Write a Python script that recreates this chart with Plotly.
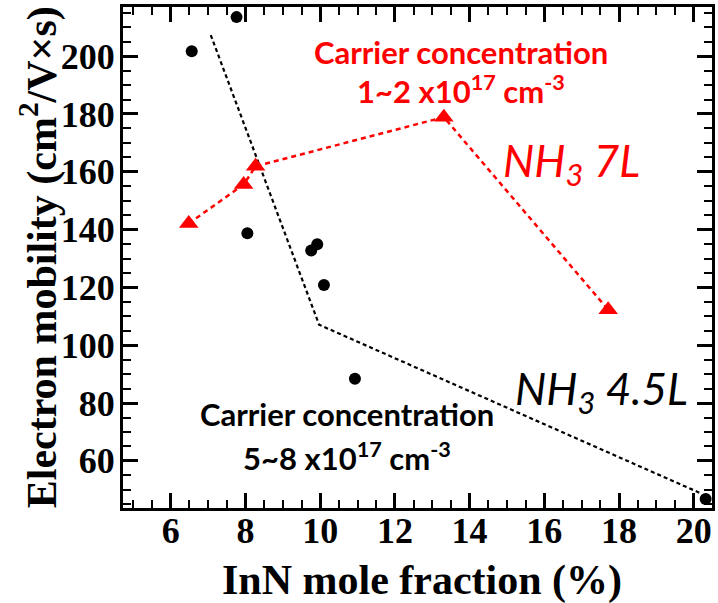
import plotly.graph_objects as go

# NH3 4.5L samples: InN mole fraction (%) and electron mobility (cm^2/V s)
low_nh3_x = [7.76, 6.56, 8.05, 9.76, 9.92, 10.10, 10.93, 20.32]
low_nh3_y = [213.5, 201.7, 138.7, 132.8, 134.9, 120.8, 88.4, 46.8]

# Guide line through the NH3 4.5L trend
low_guide_x = [7.07, 9.97, 20.15]
low_guide_y = [207.3, 107.1, 49.0]

# NH3 7L samples
high_nh3_x = [6.48, 7.95, 8.27, 13.31, 17.71]
high_nh3_y = [142.1, 155.6, 161.9, 178.9, 112.3]

x_range = [4.72, 20.49]
y_range = [43.7, 217.0]
x_ticks = [6, 8, 10, 12, 14, 16, 18, 20]
y_ticks = [60, 80, 100, 120, 140, 160, 180, 200]

RED = "#ff0000"
SERIF = "Liberation Serif"
SANS = "Lato"

fig = go.Figure()

fig.add_trace(go.Scatter(
    x=low_guide_x, y=low_guide_y, mode="lines",
    line=dict(color="black", width=2.2, dash="4px,3px"),
    hoverinfo="skip", showlegend=False,
))
fig.add_trace(go.Scatter(
    x=high_nh3_x, y=high_nh3_y, mode="lines+markers",
    line=dict(color=RED, width=2.5, dash="5px,4px"),
    marker=dict(symbol="triangle-up", size=17, color=RED),
    showlegend=False,
))
fig.add_trace(go.Scatter(
    x=low_nh3_x, y=low_nh3_y, mode="markers",
    marker=dict(symbol="circle", size=12, color="black"),
    showlegend=False,
))

axis_common = dict(
    showline=True, linecolor="black", linewidth=3, mirror="allticks",
    ticks="inside", ticklen=15, tickwidth=2.5, tickcolor="black",
    showgrid=False, zeroline=False,
    tickfont=dict(family=SERIF, size=36, color="black"),
)

fig.update_xaxes(
    range=x_range, tickvals=x_ticks, ticktext=[f"<b>{v}</b>" for v in x_ticks],
    ticklabelstandoff=-11,
    minor=dict(dtick=0.5, tick0=0, ticks="inside", ticklen=8, tickwidth=2, tickcolor="black"),
    **axis_common,
)
fig.update_yaxes(
    range=y_range, tickvals=y_ticks, ticktext=[f"<b>{v}</b>" for v in y_ticks],
    ticklabelstandoff=-2,
    minor=dict(dtick=5, tick0=0, ticks="inside", ticklen=8, tickwidth=2, tickcolor="black"),
    **axis_common,
)

annotations = [
    dict(x=13.76, y=201.4, text="<b>Carrier concentration</b>", font=dict(family=SANS, size=31, color=RED)),
    dict(x=13.78, y=188.5, text="<b>1~2 x10<sup>17</sup> cm<sup>-3</sup></b>", font=dict(family=SANS, size=31, color=RED)),
    dict(x=10.72, y=76.3, text="<b>Carrier concentration</b>", font=dict(family=SANS, size=31, color="black")),
    dict(x=10.72, y=61.4, text="<b>5~8 x10<sup>17</sup> cm<sup>-3</sup></b>", font=dict(family=SANS, size=31, color="black")),
    dict(x=16.72, y=162.8, text="<i>NH<sub>3</sub> 7L</i>", font=dict(family=SANS, size=44, color=RED)),
    dict(x=17.52, y=84.0, text="<i>NH<sub>3</sub> 4.5L</i>", font=dict(family=SANS, size=44, color="black")),
]
for a in annotations:
    a.update(xref="x", yref="y", showarrow=False, xanchor="center", yanchor="middle")

# Axis titles placed in paper coordinates
annotations += [
    dict(x=0.508, y=-0.145, xref="paper", yref="paper", showarrow=False,
         xanchor="center", yanchor="middle",
         text="<b>InN mole fraction (%)</b>", font=dict(family=SERIF, size=42, color="black")),
    dict(x=-0.143, y=0.50, xref="paper", yref="paper", showarrow=False,
         xanchor="center", yanchor="middle", textangle=-90,
         text="<b>Electron mobility (cm<sup>2</sup>/V×s)</b>", font=dict(family=SERIF, size=42, color="black")),
]

fig.update_layout(
    width=718, height=603,
    margin=dict(l=123, r=3, t=7, b=95),
    plot_bgcolor="white", paper_bgcolor="white",
    annotations=annotations,
)

fig.write_html("out.html")
